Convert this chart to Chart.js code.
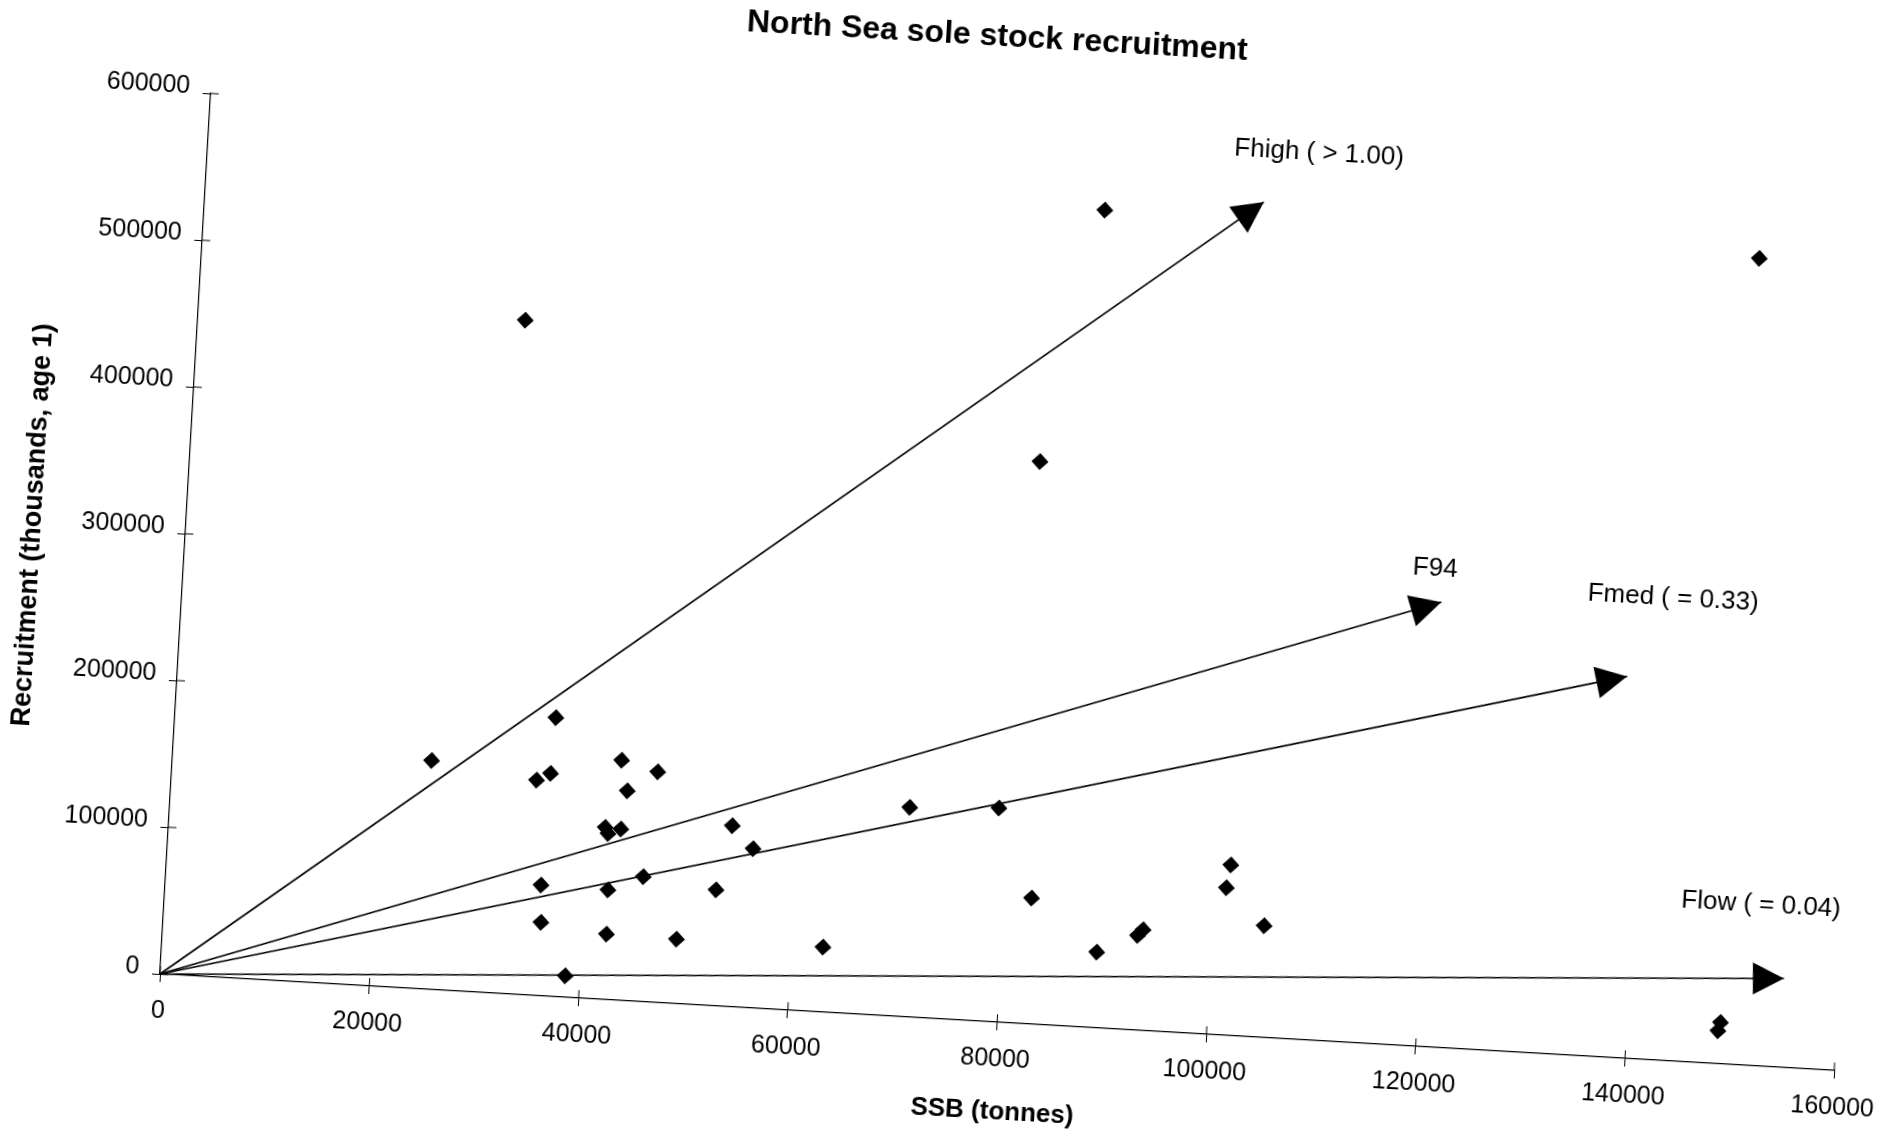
<!DOCTYPE html>
<html>
<head>
<meta charset="utf-8">
<title>North Sea sole stock recruitment</title>
<script src="https://cdn.jsdelivr.net/npm/chart.js@4.4.1/dist/chart.umd.min.js"></script>
<style>
    html, body { margin: 0; padding: 0; background: #fff; overflow: hidden; }
    body { width: 1900px; height: 1137px; position: relative; }
    /* the printed figure sits slightly turned on the page, so the plot is turned with it */
    #page {
        position: absolute; left: -40px; top: -60px;
        width: 2000px; height: 1250px;
        transform-origin: 200px 1034px;
        transform: rotate(3.3deg);
    }
</style>
</head>
<body>
<div id="page"><canvas id="sole-chart" width="2000" height="1250"></canvas></div>
<script>
// SSB (tonnes) against recruitment (thousands, age 1), one pair per year class
const ssb = [
    24700, 36300, 34800, 36100, 42800, 46300, 43500, 41600, 41900, 43100,
    53700, 55800, 35800, 42200, 45500, 52500, 36000, 42300, 49000, 63000,
    38600, 70500, 79000, 82600, 101400, 101100, 104900, 93400, 92900, 89100,
    85800, 81000, 31200, 148400, 148900, 148700
];
const recruitment = [
    155600, 189700, 146500, 151500, 163300, 156800, 142700, 117000, 113000, 116500,
    123200, 108400, 75400, 74600, 85000, 78900, 50000, 44600, 43900, 44300,
    14700, 142600, 145600, 85700, 116000, 100400, 76000, 68500, 64400, 51500,
    555800, 382500, 458400, 548600, 28300, 22500
];

// fishing mortality reference lines, drawn as arrows out of the origin
const refNames = ['Fhigh ( > 1.00)', 'F94', 'Fmed ( = 0.33)', 'Flow ( = 0.04)'];
const refEndSsb = [100900, 120000, 138100, 154700];
const refEndRec = [567500, 302700, 259600, 60500];
// where each arrow's label starts (left end of its baseline)
const refLabelSsb = [97800, 117100, 133900, 144500];
const refLabelRec = [598100, 320100, 309400, 104800];

// axis ticks
const xTicks = [0, 20000, 40000, 60000, 80000, 100000, 120000, 140000, 160000];
const yTicks = [0, 100000, 200000, 300000, 400000, 500000, 600000];

const FONT = '"Liberation Sans", Arial, Helvetica, sans-serif';
const TITLE = 'North Sea sole stock recruitment';

// Arrow heads, line labels, inner tick marks and the chart title
const figureExtras = {
    id: 'figureExtras',
    afterDraw(chart) {
        const { ctx, chartArea, scales: { x, y } } = chart;
        ctx.save();
        ctx.fillStyle = '#000';
        ctx.strokeStyle = '#000';

        // arrow heads, pointing along each line
        const ox = x.getPixelForValue(0);
        const oy = y.getPixelForValue(0);
        refEndSsb.forEach((s, i) => {
            const tx = x.getPixelForValue(s);
            const ty = y.getPixelForValue(refEndRec[i]);
            const ang = Math.atan2(ty - oy, tx - ox);
            ctx.save();
            ctx.translate(tx, ty);
            ctx.rotate(ang);
            ctx.beginPath();
            ctx.moveTo(0, 0);
            ctx.lineTo(-31, -16);
            ctx.lineTo(-31, 16);
            ctx.closePath();
            ctx.fill();
            ctx.restore();
        });

        // line labels
        ctx.font = '26px ' + FONT;
        ctx.textAlign = 'left';
        ctx.textBaseline = 'alphabetic';
        refNames.forEach((name, i) => {
            ctx.fillText(name, x.getPixelForValue(refLabelSsb[i]), y.getPixelForValue(refLabelRec[i]));
        });

        // tick marks cross the axes, so add the inner half
        ctx.lineWidth = 1;
        ctx.beginPath();
        xTicks.forEach(v => {
            const px = x.getPixelForValue(v);
            ctx.moveTo(px, chartArea.bottom);
            ctx.lineTo(px, chartArea.bottom - 8);
        });
        yTicks.forEach(v => {
            const py = y.getPixelForValue(v);
            ctx.moveTo(chartArea.left, py);
            ctx.lineTo(chartArea.left + 8, py);
        });
        ctx.stroke();

        // title
        ctx.font = 'bold 32px ' + FONT;
        ctx.textAlign = 'center';
        ctx.fillText(TITLE, chartArea.left + 782, chartArea.bottom - 975);
        ctx.restore();
    }
};

const points = ssb.map((s, i) => ({ x: s, y: recruitment[i] }));

const refDatasets = refNames.map((name, i) => ({
    label: name,
    data: [{ x: 0, y: 0 }, { x: refEndSsb[i], y: refEndRec[i] }],
    showLine: true,
    borderColor: '#000',
    borderWidth: 1.6,
    pointRadius: 0,
    fill: false,
    clip: false
}));

new Chart(document.getElementById('sole-chart'), {
    type: 'scatter',
    data: {
        datasets: [
            {
                label: 'Recruitment',
                data: points,
                pointStyle: 'rectRot',
                pointRadius: 8.5,
                backgroundColor: '#000',
                borderColor: '#000',
                borderWidth: 0,
                clip: false
            },
            ...refDatasets
        ]
    },
    options: {
        responsive: false,
        animation: false,
        layout: { padding: { left: 0, top: 152, right: 123, bottom: 0 } },
        plugins: {
            legend: { display: false },
            tooltip: { enabled: false }
        },
        scales: {
            x: {
                type: 'linear',
                min: 0,
                max: 160000,
                afterBuildTicks: s => { s.ticks = xTicks.map(v => ({ value: v })); },
                afterFit: s => { s.height = 216; },
                border: { display: true, color: '#000', width: 1.2 },
                grid: { drawOnChartArea: false, color: '#000', tickLength: 8, lineWidth: 1 },
                ticks: {
                    color: '#000',
                    padding: 14,
                    maxRotation: 0,
                    autoSkip: false,
                    font: { family: FONT, size: 25 },
                    callback: v => String(v)
                },
                title: {
                    display: true,
                    text: 'SSB (tonnes)',
                    color: '#000',
                    font: { family: FONT, size: 26, weight: 'bold' },
                    padding: { top: 0, bottom: 111 }
                }
            },
            y: {
                type: 'linear',
                min: 0,
                max: 600000,
                afterBuildTicks: s => { s.ticks = yTicks.map(v => ({ value: v })); },
                afterFit: s => { s.width = 200; },
                border: { display: true, color: '#000', width: 1.2 },
                grid: { drawOnChartArea: false, color: '#000', tickLength: 8, lineWidth: 1 },
                ticks: {
                    color: '#000',
                    padding: 13,
                    labelOffset: -6,
                    autoSkip: false,
                    font: { family: FONT, size: 25 },
                    callback: v => String(v)
                },
                title: {
                    display: true,
                    text: 'Recruitment (thousands, age 1)',
                    color: '#000',
                    font: { family: FONT, size: 27, weight: 'bold' },
                    padding: { top: 31, bottom: 0 }
                }
            }
        }
    },
    plugins: [figureExtras]
});
</script>
</body>
</html>
